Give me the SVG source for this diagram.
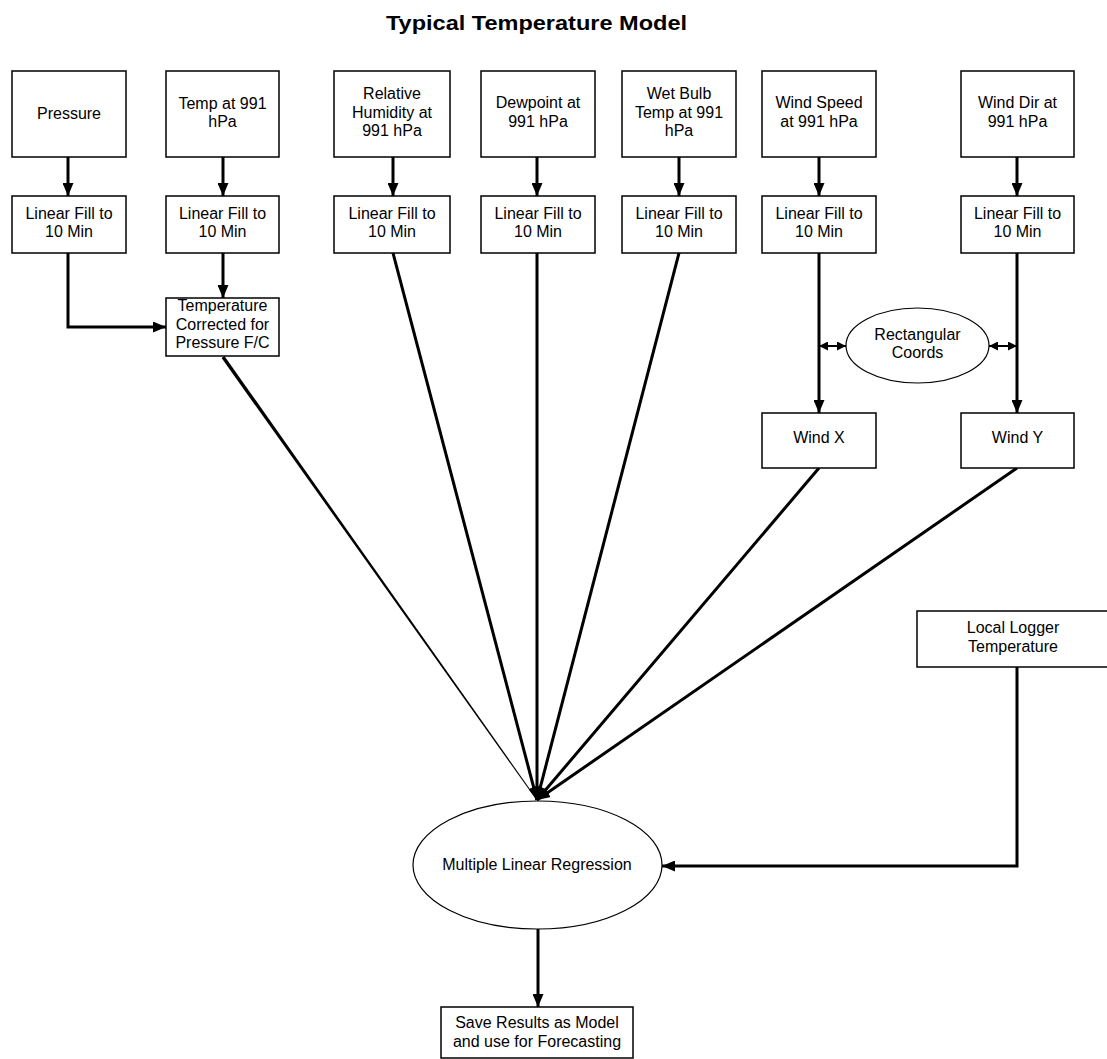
<svg xmlns="http://www.w3.org/2000/svg" width="1107" height="1059" viewBox="0 0 1107 1059">
<style>
.box{fill:#fff;stroke:#000;stroke-width:1.5}
.ell{fill:#fff;stroke:#000;stroke-width:1.2}
.t{font-family:"Liberation Sans",Arial,sans-serif;font-size:16px;fill:#000;text-anchor:middle}
.title{font-family:"Liberation Sans",Arial,sans-serif;font-size:21px;font-weight:bold;fill:#000;text-anchor:middle}
.c{fill:none;stroke:#000;stroke-width:3}
.cs{fill:none;stroke:#000;stroke-width:2}
</style>
<defs>
<marker id="ah" markerUnits="userSpaceOnUse" markerWidth="13" markerHeight="11" refX="13" refY="5.5" orient="auto">
<path d="M0,0 L13,5.5 L0,11 z" fill="#000"/>
</marker>
<marker id="sh" markerUnits="userSpaceOnUse" markerWidth="9" markerHeight="9" refX="9" refY="4.5" orient="auto-start-reverse">
<path d="M0,0 L9,4.5 L0,9 z" fill="#000"/>
</marker>
</defs>
<rect width="1107" height="1059" fill="#fff"/>
<text class="title" x="536.5" y="30" textLength="301" lengthAdjust="spacingAndGlyphs">Typical Temperature Model</text>

<g id="connectors">
<line class="c" x1="68" y1="157" x2="68" y2="196" marker-end="url(#ah)"/>
<line class="c" x1="223" y1="157" x2="223" y2="196" marker-end="url(#ah)"/>
<line class="c" x1="393" y1="157" x2="393" y2="196" marker-end="url(#ah)"/>
<line class="c" x1="537" y1="157" x2="537" y2="196" marker-end="url(#ah)"/>
<line class="c" x1="679" y1="157" x2="679" y2="196" marker-end="url(#ah)"/>
<line class="c" x1="819" y1="157" x2="819" y2="196" marker-end="url(#ah)"/>
<line class="c" x1="1017" y1="157" x2="1017" y2="196" marker-end="url(#ah)"/>
<line class="c" x1="223" y1="253" x2="223" y2="298" marker-end="url(#ah)"/>
<polyline class="c" points="68,253 68,327 166,327" marker-end="url(#ah)"/>
<line class="c" x1="819" y1="253" x2="819" y2="413" marker-end="url(#ah)"/>
<line class="c" x1="1017" y1="253" x2="1017" y2="413" marker-end="url(#ah)"/>
<line class="cs" x1="819" y1="346" x2="846" y2="346" marker-start="url(#sh)" marker-end="url(#sh)"/>
<line class="cs" x1="989" y1="346" x2="1017" y2="346" marker-start="url(#sh)" marker-end="url(#sh)"/>
<polygon points="224.4,355.9 221.6,358.1 536.6,800.3 537.4,799.7" fill="#000"/>
<line class="c" x1="393" y1="253" x2="537" y2="800" marker-end="url(#ah)"/>
<line class="c" x1="537" y1="253" x2="537" y2="800" marker-end="url(#ah)"/>
<line class="c" x1="679" y1="253" x2="537" y2="800" marker-end="url(#ah)"/>
<line class="c" x1="819" y1="468" x2="537" y2="800" marker-end="url(#ah)"/>
<line class="c" x1="1017" y1="468" x2="537" y2="800" marker-end="url(#ah)"/>
<polyline class="c" points="1017,667 1017,866 662,866" marker-end="url(#ah)"/>
<line class="c" x1="538" y1="929" x2="538" y2="1007" marker-end="url(#ah)"/>
</g>

<g id="n-pressure"><rect class="box" x="12" y="71" width="114" height="86"/><text class="t" x="69" y="119">Pressure</text></g>
<g id="n-temp"><rect class="box" x="166" y="71" width="113" height="86"/><text class="t" x="222.5" y="109">Temp at 991</text><text class="t" x="222.5" y="127">hPa</text></g>
<g id="n-rh"><rect class="box" x="334" y="71" width="116" height="86"/><text class="t" x="392" y="99">Relative</text><text class="t" x="392" y="118">Humidity at</text><text class="t" x="392" y="136">991 hPa</text></g>
<g id="n-dew"><rect class="box" x="481" y="71" width="114" height="86"/><text class="t" x="538" y="108">Dewpoint at</text><text class="t" x="538" y="127">991 hPa</text></g>
<g id="n-wet"><rect class="box" x="622" y="71" width="114" height="86"/><text class="t" x="679" y="99">Wet Bulb</text><text class="t" x="679" y="118">Temp at 991</text><text class="t" x="679" y="136">hPa</text></g>
<g id="n-wspd"><rect class="box" x="762" y="71" width="114" height="86"/><text class="t" x="819" y="108">Wind Speed</text><text class="t" x="819" y="127">at 991 hPa</text></g>
<g id="n-wdir"><rect class="box" x="961" y="71" width="113" height="86"/><text class="t" x="1017.5" y="108">Wind Dir at</text><text class="t" x="1017.5" y="127">991 hPa</text></g>

<g id="n-fill1"><rect class="box" x="12" y="196" width="114" height="57"/><text class="t" x="69" y="219">Linear Fill to</text><text class="t" x="69" y="237">10 Min</text></g>
<g id="n-fill2"><rect class="box" x="166" y="196" width="113" height="57"/><text class="t" x="222.5" y="219">Linear Fill to</text><text class="t" x="222.5" y="237">10 Min</text></g>
<g id="n-fill3"><rect class="box" x="334" y="196" width="116" height="57"/><text class="t" x="392" y="219">Linear Fill to</text><text class="t" x="392" y="237">10 Min</text></g>
<g id="n-fill4"><rect class="box" x="481" y="196" width="114" height="57"/><text class="t" x="538" y="219">Linear Fill to</text><text class="t" x="538" y="237">10 Min</text></g>
<g id="n-fill5"><rect class="box" x="622" y="196" width="114" height="57"/><text class="t" x="679" y="219">Linear Fill to</text><text class="t" x="679" y="237">10 Min</text></g>
<g id="n-fill6"><rect class="box" x="762" y="196" width="114" height="57"/><text class="t" x="819" y="219">Linear Fill to</text><text class="t" x="819" y="237">10 Min</text></g>
<g id="n-fill7"><rect class="box" x="961" y="196" width="113" height="57"/><text class="t" x="1017.5" y="219">Linear Fill to</text><text class="t" x="1017.5" y="237">10 Min</text></g>

<g id="n-tcorr"><rect class="box" x="166" y="298" width="113" height="58"/><text class="t" x="222.5" y="311">Temperature</text><text class="t" x="222.5" y="330">Corrected for</text><text class="t" x="222.5" y="348">Pressure F/C</text></g>
<g id="n-rect"><ellipse class="ell" cx="917.5" cy="345.5" rx="71.5" ry="37.5"/><text class="t" x="917.5" y="340">Rectangular</text><text class="t" x="917.5" y="358">Coords</text></g>
<g id="n-windx"><rect class="box" x="762" y="413" width="114" height="55"/><text class="t" x="819" y="443">Wind X</text></g>
<g id="n-windy"><rect class="box" x="961" y="413" width="113" height="55"/><text class="t" x="1017.5" y="443">Wind Y</text></g>
<g id="n-logger"><rect class="box" x="917" y="611" width="192" height="56"/><text class="t" x="1013" y="633">Local Logger</text><text class="t" x="1013" y="652">Temperature</text></g>
<g id="n-mlr"><ellipse class="ell" cx="537.5" cy="865" rx="124.5" ry="64"/><text class="t" x="537" y="870">Multiple Linear Regression</text></g>
<g id="n-save"><rect class="box" x="441" y="1007" width="192" height="51"/><text class="t" x="537" y="1028">Save Results as Model</text><text class="t" x="537" y="1047">and use for Forecasting</text></g>
</svg>
